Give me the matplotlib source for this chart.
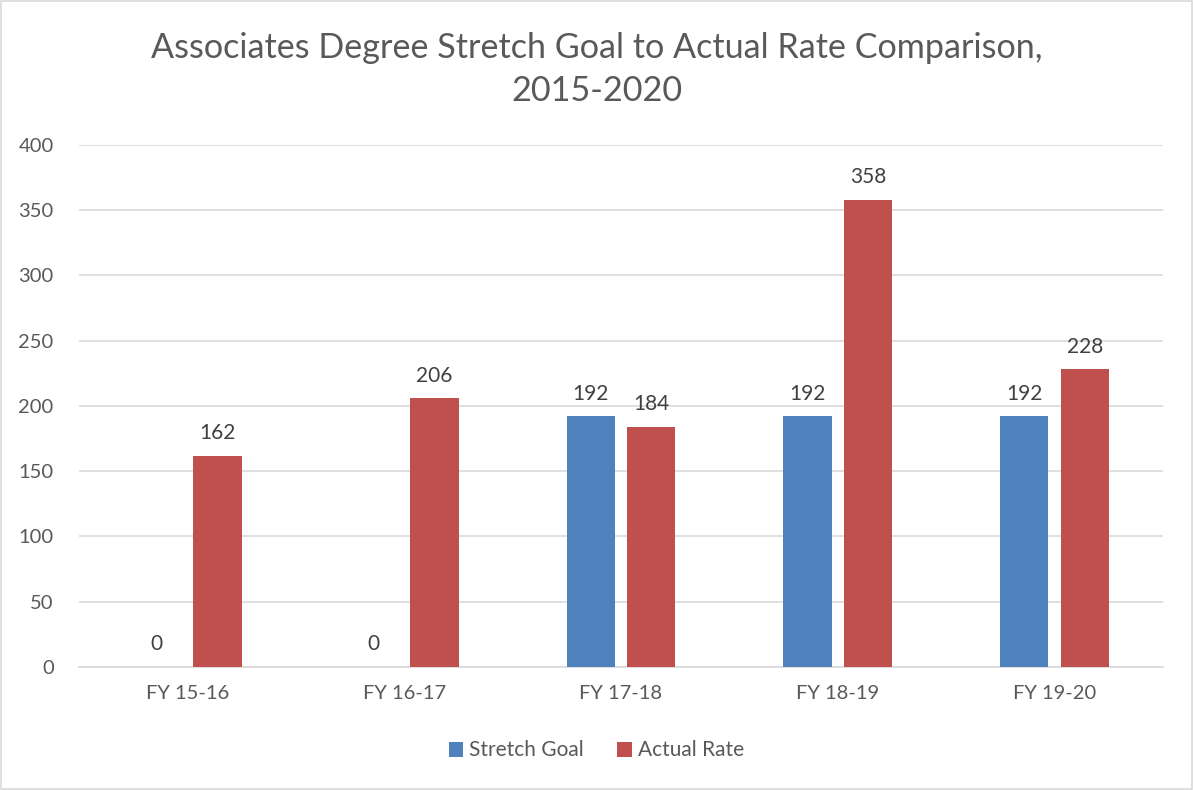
import matplotlib
matplotlib.use("Agg")
import matplotlib.pyplot as plt
import numpy as np

categories = ["FY 15-16", "FY 16-17", "FY 17-18", "FY 18-19", "FY 19-20"]
stretch_goal = [0, 0, 192, 192, 192]
actual_rate = [162, 206, 184, 358, 228]
yticks = [0, 50, 100, 150, 200, 250, 300, 350, 400]

plt.rcParams['font.family'] = ['Lato', 'DejaVu Sans']
txt = '#595959'
blue = '#4F81BD'
red = '#C0504D'

fig = plt.figure(figsize=(11.93, 7.90), dpi=100)
fig.patches.append(plt.Rectangle((0.0008, 0.0012), 0.9984, 0.9976, transform=fig.transFigure,
                                 fill=False, edgecolor='#D9D9D9', linewidth=1.2))
ax = fig.add_axes([0.066, 0.1557, 0.909, 0.6608])

x = np.arange(len(categories))
w = 0.222
off = 0.14
b1 = ax.bar(x - off, stretch_goal, w, color=blue, label='Stretch Goal', zorder=3)
b2 = ax.bar(x + off, actual_rate, w, color=red, label='Actual Rate', zorder=3)
for bars, vals in ((b1, stretch_goal), (b2, actual_rate)):
    for b, v in zip(bars, vals):
        ax.annotate(str(v), (b.get_x() + b.get_width() / 2, v), xytext=(0, 9),
                    textcoords='offset points', ha='center', va='bottom',
                    fontsize=15, color='#404040')

ax.set_xlim(-0.5, len(categories) - 0.5)
ax.set_ylim(0, 400)
ax.set_yticks(yticks)
ax.set_xticks(x)
ax.set_xticklabels(categories)
ax.tick_params(axis='both', length=0, labelsize=14.5, labelcolor=txt)
ax.tick_params(axis='y', pad=18)
ax.tick_params(axis='x', pad=13)
ax.grid(axis='y', color='#D9D9D9', linewidth=1.2, zorder=0)
for s in ('top', 'right', 'left'):
    ax.spines[s].set_visible(False)
ax.spines['bottom'].set_color('#D9D9D9')
ax.spines['bottom'].set_linewidth(1.2)

fig.text(0.5, 0.912, "Associates Degree Stretch Goal to Actual Rate Comparison,\n2015-2020",
         ha='center', va='center', fontsize=24.6, color=txt, linespacing=1.42)

fig.legend(handles=[b1, b2], loc='center', bbox_to_anchor=(0.5, 0.05), ncol=2, frameon=False,
           fontsize=15, labelcolor=txt, handlelength=0.7, handleheight=0.7,
           handletextpad=0.3, columnspacing=1.6)

fig.savefig("out.png", dpi=100)
